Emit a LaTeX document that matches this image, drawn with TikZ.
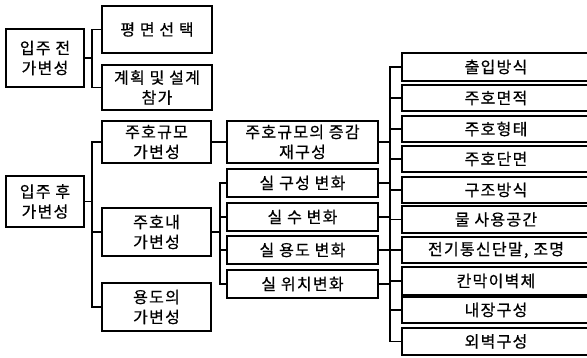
\documentclass[tikz,border=0pt]{standalone}
\usepackage{fontspec}
\setmainfont{Noto Sans CJK KR}[LetterSpace=8,FakeBold=0.6]
\begin{document}
\begin{tikzpicture}[x=1pt,y=-1pt,
  box/.style={draw, line width=1.6pt, inner sep=0pt, align=center,
    font=\fontsize{16}{20}\selectfont},
  ln/.style={line width=1.6pt}]
\useasboundingbox (0,0) rectangle (587,358);
\clip (0,0) rectangle (587,358);
% pre-occupancy
\node[box, minimum width=78, minimum height=58] (pre) at (45,58) {입주 전\\가변성};
\node[box, minimum width=110, minimum height=47] (a1) at (157,29.5) {\addfontfeatures{LetterSpace=30}평면선택};
\node[box, minimum width=110, minimum height=45] (a2) at (157,87.5) {계획 및 설계\\참가};
% post-occupancy
\node[box, minimum width=78, minimum height=51] (post) at (45,201.5) {입주 후\\가변성};
\node[box, minimum width=109, minimum height=42] (b1) at (156.5,142) {주호규모\\가변성};
\node[box, minimum width=109, minimum height=48] (b2) at (156.5,232) {주호내\\가변성};
\node[box, minimum width=109, minimum height=48] (b3) at (156.5,307) {용도의\\가변성};
% middle
\node[box, minimum width=151, minimum height=42] (c0) at (302.5,142) {주호규모의 증감\\재구성};
\node[box, minimum width=151, minimum height=28] (c1) at (302.5,183) {실 구성 변화};
\node[box, minimum width=151, minimum height=28] (c2) at (302.5,217) {실 수 변화};
\node[box, minimum width=151, minimum height=28] (c3) at (302.5,250) {실 용도 변화};
\node[box, minimum width=151, minimum height=28] (c4) at (302.5,284) {실 위치변화};
% right column
\node[box, minimum width=188, minimum height=28] (d1) at (496,67) {출입방식};
\node[box, minimum width=188, minimum height=26] (d2) at (496,98) {주호면적};
\node[box, minimum width=188, minimum height=26] (d3) at (496,129) {주호형태};
\node[box, minimum width=188, minimum height=26] (d4) at (496,159) {주호단면};
\node[box, minimum width=188, minimum height=26] (d5) at (496,190) {구조방식};
\node[box, minimum width=188, minimum height=27] (d6) at (496,219.5) {물 사용공간};
\node[box, minimum width=188, minimum height=26] (d7) at (496,250) {전기통신단말, 조명};
\node[box, minimum width=188, minimum height=28] (d8) at (496,281) {칸막이벽체};
\node[box, minimum width=188, minimum height=26] (d9) at (496,310) {내장구성};
\node[box, minimum width=188, minimum height=27] (d10) at (496,341.5) {외벽구성};
% connectors
\draw[ln] (a1.west) -- ++(-9,0) coordinate (j1) |- (a2.west);
\draw[ln] (pre.east) -- (pre.east -| j1);
\draw[ln] (b1.west) -- ++(-9,0) coordinate (j2) |- (b3.west);
\draw[ln] (b2.west) -- (b2.west -| j2);
\draw[ln] (post.east) -- (post.east -| j2);
\draw[ln] (b1.east) -- (c0.west);
\draw[ln] (c1.west) -- ++(-6,0) coordinate (j3) |- (c4.west);
\draw[ln] (c2.west) -- (c2.west -| j3);
\draw[ln] (c3.west) -- (c3.west -| j3);
\draw[ln] (b2.east) -- (b2.east -| j3);
\draw[ln] (d1.west) -- ++(-11,0) coordinate (k) |- (d10.west);
\foreach \n in {d2,d3,d4,d5,d6,d7,d8,d9} \draw[ln] (\n.west) -- (\n.west -| k);
\foreach \n in {c0,c1,c2,c3,c4} \draw[ln] (\n.east) -- (\n.east -| k);
\end{tikzpicture}
\end{document}
